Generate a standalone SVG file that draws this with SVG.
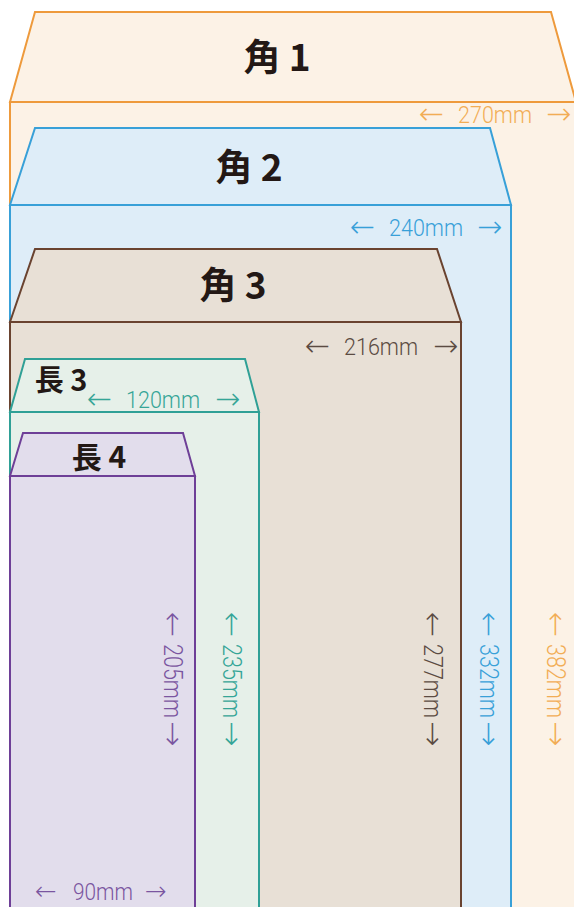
<svg xmlns="http://www.w3.org/2000/svg" width="574" height="907" viewBox="0 0 574 907">
<style>
.lbl{font-family:"Noto Sans CJK JP",sans-serif;font-weight:700;fill:#231815}
.dim text{font-family:Roboto,"DejaVu Sans",sans-serif;font-weight:300;font-size:24px}
.dv text{font-size:25px}
.dim text.ar{font-family:"DejaVu Sans",sans-serif;font-weight:200;font-size:30px}
.dim text.ar2{font-family:"DejaVu Sans",sans-serif;font-weight:200;font-size:26px}
.env{stroke-width:2;stroke-linejoin:miter}
.k1{stroke:#EE9A3C;fill:#FCF2E6}
.k2{stroke:#38A0D8;fill:#DEEDF8}
.k3{stroke:#6A4330;fill:#E8E0D6}
.n3{stroke:#2FA096;fill:#E6F0E9}
.n4{stroke:#6E3F97;fill:#E2DDEC}
</style>
<rect x="0" y="0" width="574" height="907" fill="#FFFFFF"/>
<g id="kaku1">
<polygon class="env k1" points="10,102 35,12 551,12 576,102"/>
<rect class="env k1" x="10" y="102" width="570" height="820" stroke="#F3B873"/>
<text class="lbl" x="277" y="71" font-size="37" text-anchor="middle">角 1</text>
<g class="dim" fill="#F2AD55" transform="translate(421,123)">
<text class="ar" x="-2" y="1">←</text>
<text x="37" textLength="74" lengthAdjust="spacingAndGlyphs">270mm</text>
<text class="ar" x="125" y="1">→</text>
</g>
<g class="dim dv" fill="#F2AD55" transform="translate(547,0) rotate(90)">
<text class="ar" x="612" y="1">←</text>
<text x="644" textLength="74" lengthAdjust="spacingAndGlyphs">382mm</text>
<text class="ar" x="721" y="1">→</text>
</g>
</g>
<g id="kaku2">
<polygon class="env k2" points="10,205 35,128 490,128 511,205"/>
<rect class="env k2" x="10" y="205" width="501" height="720"/>
<text class="lbl" x="249" y="181" font-size="37" text-anchor="middle">角 2</text>
<g class="dim" fill="#38A0D8" transform="translate(352,236)">
<text class="ar" x="-2" y="1">←</text>
<text x="37" textLength="74" lengthAdjust="spacingAndGlyphs">240mm</text>
<text class="ar" x="125" y="1">→</text>
</g>
<g class="dim dv" fill="#38A0D8" transform="translate(480,0) rotate(90)">
<text class="ar" x="612" y="1">←</text>
<text x="644" textLength="74" lengthAdjust="spacingAndGlyphs">332mm</text>
<text class="ar" x="721" y="1">→</text>
</g>
</g>
<g id="kaku3">
<polygon class="env k3" points="10,322 35,249 437,249 461,322"/>
<rect class="env k3" x="10" y="322" width="451" height="600"/>
<text class="lbl" x="233" y="299" font-size="37" text-anchor="middle">角 3</text>
<g class="dim" fill="#5B4B42" transform="translate(307,355)">
<text class="ar" x="-2" y="1">←</text>
<text x="37" textLength="74" lengthAdjust="spacingAndGlyphs">216mm</text>
<text class="ar" x="126" y="1">→</text>
</g>
<g class="dim dv" fill="#5B4B42" transform="translate(424,0) rotate(90)">
<text class="ar" x="612" y="1">←</text>
<text x="644" textLength="74" lengthAdjust="spacingAndGlyphs">277mm</text>
<text class="ar" x="721" y="1">→</text>
</g>
</g>
<g id="naga3">
<polygon class="env n3" points="10,412 25,359 245,359 259,412"/>
<rect class="env n3" x="10" y="412" width="249" height="510"/>
<text class="lbl" x="61" y="391" font-size="29" text-anchor="middle">長 3</text>
<g class="dim" fill="#35A597" transform="translate(89,408)">
<text class="ar" x="-2" y="1">←</text>
<text x="37" textLength="74" lengthAdjust="spacingAndGlyphs">120mm</text>
<text class="ar" x="126" y="1">→</text>
</g>
<g class="dim dv" fill="#35A597" transform="translate(223,0) rotate(90)">
<text class="ar" x="612" y="1">←</text>
<text x="644" textLength="74" lengthAdjust="spacingAndGlyphs">235mm</text>
<text class="ar" x="721" y="1">→</text>
</g>
</g>
<g id="naga4">
<polygon class="env n4" points="10,476 23,433 183,433 195,476"/>
<rect class="env n4" x="10" y="476" width="185" height="450"/>
<text class="lbl" x="99" y="468" font-size="30" text-anchor="middle">長 4</text>
<g class="dim" fill="#7A55A0" transform="translate(36,900)">
<text class="ar2" x="-1" y="0">←</text>
<text x="37" textLength="60" lengthAdjust="spacingAndGlyphs">90mm</text>
<text class="ar2" x="109" y="0">→</text>
</g>
<g class="dim dv" fill="#7A55A0" transform="translate(164,0) rotate(90)">
<text class="ar" x="612" y="1">←</text>
<text x="644" textLength="74" lengthAdjust="spacingAndGlyphs">205mm</text>
<text class="ar" x="721" y="1">→</text>
</g>
</g>
<g id="connectors"></g>
</svg>
